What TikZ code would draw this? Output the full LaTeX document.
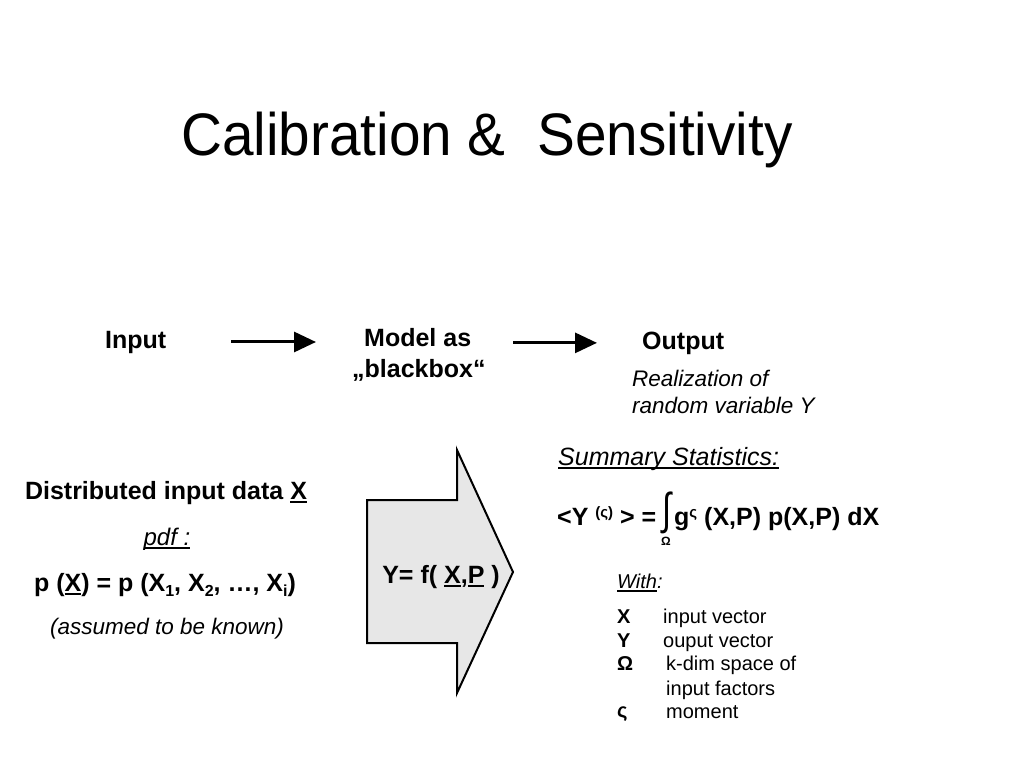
\documentclass[tikz,border=0pt]{standalone}
\usepackage{fontspec}
\usepackage{graphicx}
\setmainfont{Liberation Sans}
\newfontfamily\titlefont{Liberation Sans}[FakeStretch=0.945]
\usetikzlibrary{arrows.meta}
\definecolor{boxfill}{RGB}{231,231,231}
\newcommand{\ubar}[1]{\setbox0\hbox{#1}\rlap{\rule[-4pt]{\wd0}{1.6pt}}\box0}
\newcommand{\supsym}[1]{\raisebox{8pt}{\fontsize{15}{15}\selectfont #1}}
\newcommand{\subsym}[1]{\raisebox{-5pt}{\fontsize{16}{16}\selectfont #1}}
\tikzset{
	body/.style={font=\fontsize{25}{30}\selectfont\bfseries, inner sep=0pt},
	note/.style={font=\fontsize{22.5}{27}\selectfont\itshape, inner sep=0pt},
	legend/.style={font=\fontsize{20}{24}\selectfont, inner sep=0pt},
	flow/.style={line width=3pt, -{Triangle[length=22pt,width=20pt]}}
}
\begin{document}
\begin{tikzpicture}[x=1pt,y=-1pt]
		\useasboundingbox (0,0) rectangle (1024,768);
		\node[anchor=base west, inner sep=0pt, font=\titlefont\fontsize{60}{72}\selectfont] (title) at (181,155) {Calibration \&\ \ Sensitivity};
		\node[body, anchor=base west] (input) at (105,348) {Input};
		\node[body, anchor=base west] (model) at (364,346) {Model as};
		\node[body, anchor=base west] (blackbox) at (352,377) {„blackbox“};
		\node[body, anchor=base west] (output) at (642,349) {Output};
		\node[note, anchor=base west] (real1) at (632,386) {Realization of};
		\node[note, anchor=base west] (real2) at (632,413) {random variable Y};
		\draw[flow, shorten <=65pt, shorten >=48pt] (input.east) -- (input.east -| model.west);
		\draw[flow, shorten <=42pt, shorten >=45pt] (output.west -| model.east) -- (output.west);
		\node[body, anchor=base] (dist) at (166,499) {Distributed input data \ubar{X}};
		\node[note, anchor=base, font=\fontsize{24}{28}\selectfont\itshape] (pdf) at (167,545) {\ubar{pdf :}};
		\node[body, anchor=base] (px) at (165,591) {p (\ubar{X}) = p (X\subsym{1}, X\subsym{2}, …, X\subsym{i})};
		\node[note, anchor=base] (known) at (167,634) {(assumed to be known)};
		\coordinate (B1) at (367,500);
		\coordinate (B2) at (457,500);
		\coordinate (H1) at (457,450);
		\coordinate (T) at (513,572);
		\coordinate (H2) at (457,693);
		\coordinate (B3) at (457,643);
		\coordinate (B4) at (367,643);
		\draw[line width=2pt, fill=boxfill] (B1) -- (B2) -- (H1) -- (T) -- (H2) -- (B3) -- (B4) -- cycle;
		\node[body, anchor=base] (func) at (441,583) {Y= f( \ubar{X},\ubar{P}\ )};
		\node[anchor=base west, inner sep=0pt, font=\fontsize{25}{30}\selectfont\itshape] (summary) at (558,465) {\ubar{Summary Statistics:}};
		\node[body, anchor=base west] (mean) at (557,525) {<Y \supsym{(ς)} > =};
		\node[inner sep=0pt] (integral) at (667,513) {\resizebox*{9pt}{42pt}{∫}};
		\node[body, anchor=base, font=\fontsize{12}{12}\selectfont\bfseries] (omega) at (666,545) {Ω};
		\node[body, anchor=base west] (moment) at (674,525) {g\supsym{ς} (X,P) p(X,P) dX};
		\node[legend, anchor=base west, font=\fontsize{20}{24}\selectfont\itshape] (with) at (617,588) {\ubar{With}:};
		\node[legend, anchor=base west, font=\fontsize{20}{24}\selectfont\bfseries] (symX) at (617,623) {X};
		\node[legend, anchor=base west] (descX) at (663,623) {input vector};
		\node[legend, anchor=base west, font=\fontsize{20}{24}\selectfont\bfseries] (symY) at (617,647) {Y};
		\node[legend, anchor=base west] (descY) at (663,647) {ouput vector};
		\node[legend, anchor=base west, font=\fontsize{20}{24}\selectfont\bfseries] (symO) at (617,670) {Ω};
		\node[legend, anchor=base west] (descO) at (666,670) {k-dim space of};
		\node[legend, anchor=base west] (descO2) at (666,695) {input factors};
		\node[legend, anchor=base west, font=\fontsize{20}{24}\selectfont\bfseries] (symS) at (617,717) {ς};
		\node[legend, anchor=base west] (descS) at (666,718) {moment};
		\end{tikzpicture}
\end{document}
